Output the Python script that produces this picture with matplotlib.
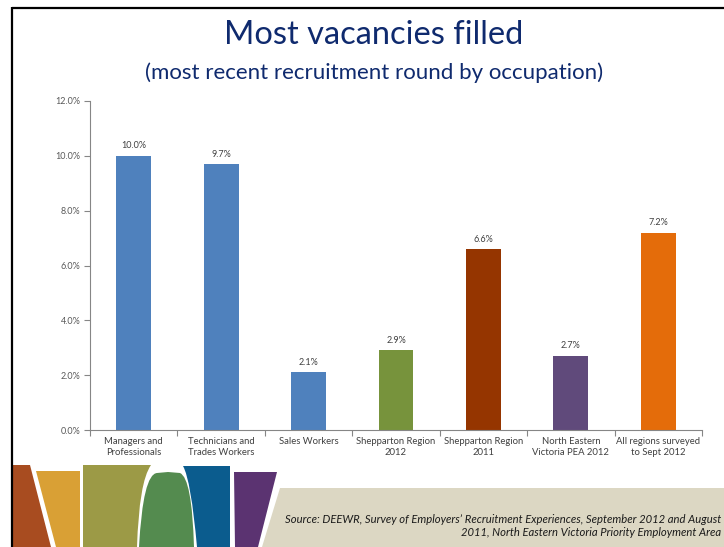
import matplotlib
matplotlib.use("Agg")
import matplotlib.pyplot as plt
from matplotlib.path import Path
from matplotlib.patches import PathPatch, Polygon
from matplotlib.ticker import FuncFormatter, FixedLocator

plt.rcParams["font.family"] = ["Lato", "DejaVu Sans"]

# data
categories = ["Managers and\nProfessionals", "Technicians and\nTrades Workers", "Sales Workers",
              "Shepparton Region\n2012", "Shepparton Region\n2011",
              "North Eastern\nVictoria PEA 2012", "All regions surveyed\nto Sept 2012"]
values = [10.0, 9.7, 2.1, 2.9, 6.6, 2.7, 7.2]
colors = ["#4F81BD", "#4F81BD", "#4F81BD", "#77933C", "#953500", "#604A7B", "#E46C0A"]
yticks = [0, 2, 4, 6, 8, 10, 12]

W, H = 724, 547
fig = plt.figure(figsize=(W / 100, H / 100), dpi=100)

# background layer in pixel coordinates (decoration, border)
bg = fig.add_axes([0, 0, 1, 1])
bg.set_xlim(0, W); bg.set_ylim(H, 0); bg.axis("off")

bg.plot([12, W], [7.5, 7.5], color="black", lw=1.6, solid_capstyle="butt")
bg.plot([12, 12], [7, H], color="black", lw=1.6, solid_capstyle="butt")

M, Q, L, C = Path.MOVETO, Path.CURVE3, Path.LINETO, Path.CLOSEPOLY
bg.add_patch(Polygon([(13, 465), (30, 465), (51, 547), (13, 547)], color="#A84C20", lw=0))
bg.add_patch(Polygon([(36, 471), (80, 471), (80, 547), (56, 547)], color="#D9A035", lw=0))
bg.add_patch(PathPatch(Path([(83, 465), (151, 465), (139, 482), (137, 547), (83, 547), (83, 465)],
                            [M, L, Q, Q, L, C]), color="#9C9A46", lw=0))
bg.add_patch(PathPatch(Path([(139, 547), (143, 474), (157, 473), (168, 472), (180, 473),
                             (192, 478), (194, 547), (139, 547)],
                            [M, Q, Q, L, L, Q, Q, C]), color="#548B4F", lw=0))
bg.add_patch(PathPatch(Path([(183, 466), (230, 466), (230, 547), (197, 547), (191, 480), (183, 466)],
                            [M, L, L, L, Q, Q]), color="#0B5C8E", lw=0))
bg.add_patch(Polygon([(234, 472), (277, 472), (258, 547), (235, 547)], color="#5B3371", lw=0))
bg.add_patch(Polygon([(280, 488), (W, 488), (W, H), (262, H)], color="#DCD7C3", lw=0))

bg.text(721, 526, "Source: DEEWR, Survey of Employers\u2019 Recruitment Experiences, September 2012 and August\n"
        "2011, North Eastern Victoria Priority Employment Area",
        ha="right", va="center", fontsize=8.1, style="italic", color="#1a1a1a",
        multialignment="right", linespacing=1.2)

fig.text(374 / W, 1 - 35 / H, "Most vacancies filled", ha="center", va="center",
         fontsize=23.5, color="#0F2A6E")
fig.text(374 / W, 1 - 73 / H, "(most recent recruitment round by occupation)", ha="center",
         va="center", fontsize=16, color="#0F2A6E")

# chart
ax = fig.add_axes([90 / W, 1 - 430 / H, (702 - 90) / W, (430 - 101) / H])
x = list(range(len(values)))
ax.bar(x, values, width=0.4, color=colors, zorder=2)
for xi, v in zip(x, values):
    ax.text(xi, v + 0.2, f"{v:.1f}%", ha="center", va="bottom", fontsize=6.5, color="#404040")

ax.set_xlim(-0.5, len(values) - 0.5)
ax.set_ylim(0, 12)
ax.set_yticks(yticks)
ax.yaxis.set_major_formatter(FuncFormatter(lambda v, p: f"{v:.1f}%"))
ax.set_xticks(x)
ax.set_xticklabels(categories, fontsize=6.8, color="#404040", linespacing=1.35)
ax.xaxis.set_minor_locator(FixedLocator([i - 0.5 for i in range(len(values) + 1)]))
ax.tick_params(axis="x", which="major", length=0, pad=5)
ax.tick_params(axis="x", which="minor", length=4, color="#868686", width=0.8)
ax.tick_params(axis="y", length=4, color="#868686", width=0.8, labelsize=6.5,
               labelcolor="#595959", pad=3)
for s in ["top", "right"]:
    ax.spines[s].set_visible(False)
for s in ["left", "bottom"]:
    ax.spines[s].set_color("#868686")
    ax.spines[s].set_linewidth(0.8)
ax.set_facecolor("none")

fig.savefig("out.png", dpi=100)
